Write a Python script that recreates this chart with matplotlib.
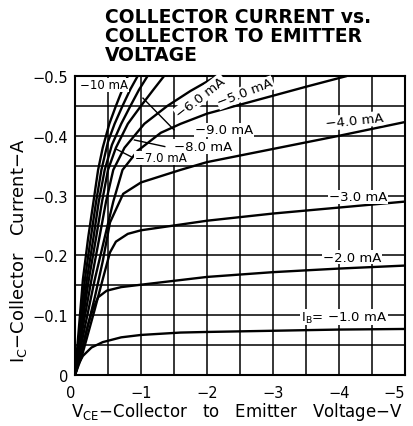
import matplotlib.pyplot as plt
from matplotlib.ticker import MultipleLocator

# base currents and curve points (magnitudes: V_CE in volts, I_C in amps)
ib_labels = ["−1.0", "−2.0", "−3.0", "−4.0", "−5.0", "−6.0", "−7.0", "−8.0", "−9.0", "−10"]

x_ticks = [0, -1, -2, -3, -4, -5]
x_ticklabels = ["0", "−1", "−2", "−3", "−4", "−5"]
y_ticks = [0, -0.1, -0.2, -0.3, -0.4, -0.5]
y_ticklabels = ["0", "−0.1", "−0.2", "−0.3", "−0.4", "−0.5"]

v_1 = [0, 0.05, 0.12, 0.25, 0.42, 0.7, 1.0, 1.6, 2.0, 3.0, 4.0, 5.0]
i_1 = [0, 0.018, 0.032, 0.046, 0.055, 0.063, 0.067, 0.071, 0.072, 0.074, 0.076, 0.077]

v_2 = [0, 0.1, 0.2, 0.27, 0.35, 0.48, 0.7, 1.0, 2.0, 3.0, 4.0, 5.0]
i_2 = [0, 0.04, 0.085, 0.11, 0.13, 0.141, 0.147, 0.151, 0.164, 0.172, 0.178, 0.183]

v_3 = [0, 0.1, 0.2, 0.3, 0.42, 0.53, 0.62, 0.8, 1.0, 1.5, 2.0, 3.0, 4.0, 5.0]
i_3 = [0, 0.03, 0.07, 0.11, 0.16, 0.205, 0.223, 0.236, 0.242, 0.25, 0.258, 0.27, 0.28, 0.29]

v_4 = [0, 0.1, 0.2, 0.3, 0.42, 0.53, 0.73, 1.0, 1.6, 2.0, 3.0, 4.0, 5.0]
i_4 = [0, 0.04, 0.085, 0.13, 0.19, 0.255, 0.303, 0.322, 0.343, 0.356, 0.378, 0.40, 0.423]

v_5 = [0, 0.14, 0.3, 0.45, 0.58, 0.72, 0.95, 1.3, 1.6, 2.0, 2.5, 3.0, 3.5, 4.12]
i_5 = [0, 0.075, 0.16, 0.23, 0.29, 0.343, 0.375, 0.405, 0.42, 0.437, 0.452, 0.467, 0.482, 0.5]

v_6 = [0, 0.12, 0.25, 0.37, 0.47, 0.58, 0.75, 1.05, 1.4, 1.75, 2.15]
i_6 = [0, 0.08, 0.16, 0.23, 0.29, 0.343, 0.38, 0.42, 0.45, 0.475, 0.5]

v_7 = [0, 0.1, 0.21, 0.32, 0.41, 0.5, 0.62, 0.8, 1.0, 1.18, 1.35]
i_7 = [0, 0.08, 0.16, 0.23, 0.29, 0.343, 0.38, 0.42, 0.45, 0.476, 0.5]

v_8 = [0, 0.09, 0.18, 0.28, 0.36, 0.45, 0.56, 0.7, 0.84, 0.97, 1.1]
i_8 = [0, 0.08, 0.16, 0.23, 0.29, 0.343, 0.385, 0.42, 0.45, 0.477, 0.5]

v_9 = [0, 0.075, 0.15, 0.24, 0.32, 0.4, 0.5, 0.6, 0.72, 0.84, 0.95]
i_9 = [0, 0.08, 0.16, 0.23, 0.29, 0.343, 0.39, 0.42, 0.45, 0.478, 0.5]

v_10 = [0, 0.06, 0.12, 0.2, 0.28, 0.35, 0.42, 0.52, 0.62, 0.72, 0.8]
i_10 = [0, 0.08, 0.16, 0.23, 0.29, 0.343, 0.38, 0.42, 0.45, 0.478, 0.5]

curves = [(v_1, i_1), (v_2, i_2), (v_3, i_3), (v_4, i_4), (v_5, i_5),
          (v_6, i_6), (v_7, i_7), (v_8, i_8), (v_9, i_9), (v_10, i_10)]

fig = plt.figure(figsize=(4.13, 4.27), dpi=100)
ax = fig.add_axes([0.1816, 0.1194, 0.799, 0.7003])

for v, i in curves:
    ax.plot([-x for x in v], [-y for y in i], color="black", lw=1.7,
            solid_capstyle="butt", zorder=3)

ax.set_xlim(0, -5)
ax.set_ylim(0, -0.5)
ax.set_xticks(x_ticks)
ax.set_xticklabels(x_ticklabels)
ax.set_yticks(y_ticks)
ax.set_yticklabels(y_ticklabels)
ax.xaxis.set_minor_locator(MultipleLocator(0.5))
ax.yaxis.set_minor_locator(MultipleLocator(0.05))
ax.grid(which="both", color="black", lw=1.1)
ax.tick_params(which="both", length=0, labelsize=10.5)
ax.tick_params(axis="x", pad=7)
ax.tick_params(axis="y", pad=5)
xl = ax.get_xticklabels()
xl[0].set_ha("right")
xl[-1].set_ha("right")
for s in ax.spines.values():
    s.set_linewidth(1.5)

ax.set_xlabel("V$_{\\mathregular{CE}}$−Collector   to   Emitter   Voltage−V", fontsize=12, labelpad=2)
ax.set_ylabel("I$_{\\mathregular{C}}$−Collector   Current−A", fontsize=13, labelpad=4)
ax.yaxis.set_label_coords(-0.14, 0.42)
ax.xaxis.set_label_coords(0.49, -0.085)

box = dict(facecolor="white", edgecolor="none", pad=0.6)
fs = 9.5

ax.text(-0.08, -0.485, ib_labels[9] + " mA", fontsize=8.5, ha="left", va="center", bbox=box, zorder=4)
ax.text(-4.08, -0.097, "I$_{\\mathregular{B}}$= " + ib_labels[0] + " mA", fontsize=fs, ha="center", va="center", bbox=box, zorder=4)
ax.text(-4.2, -0.197, ib_labels[1] + " mA", fontsize=fs, ha="center", va="center", bbox=box, zorder=4)
ax.text(-4.29, -0.298, ib_labels[2] + " mA", fontsize=fs, ha="center", va="center", bbox=box, zorder=4)
ax.text(-4.24, -0.425, ib_labels[3] + " mA", fontsize=fs, ha="center", va="center", rotation=6, bbox=box, zorder=4)
ax.text(-2.58, -0.472, ib_labels[4] + " mA", fontsize=fs, ha="center", va="center", rotation=21, bbox=box, zorder=4)
ax.text(-1.9, -0.465, ib_labels[5] + " mA", fontsize=fs, ha="center", va="center", rotation=38, bbox=box, zorder=4)
ax.text(-2.26, -0.41, ib_labels[8] + " mA", fontsize=fs, ha="center", va="center", bbox=box, zorder=4)
ax.text(-1.94, -0.382, ib_labels[7] + " mA", fontsize=fs, ha="center", va="center", bbox=box, zorder=4)
ax.text(-1.3, -0.363, ib_labels[6] + " mA", fontsize=8.5, ha="center", va="center", bbox=box, zorder=4)

# leader lines
ax.plot([-1.5, -1.03], [-0.41, -0.463], color="black", lw=1.0, zorder=3)
ax.plot([-1.36, -0.9], [-0.382, -0.393], color="black", lw=1.0, zorder=3)
ax.plot([-0.85, -0.62], [-0.365, -0.378], color="black", lw=1.0, zorder=3)

fig.text(0.254, 0.982, "COLLECTOR CURRENT vs.\nCOLLECTOR TO EMITTER\nVOLTAGE",
         fontsize=13.5, fontweight="bold", ha="left", va="top", linespacing=1.0)

fig.savefig("out.png", dpi=100)
